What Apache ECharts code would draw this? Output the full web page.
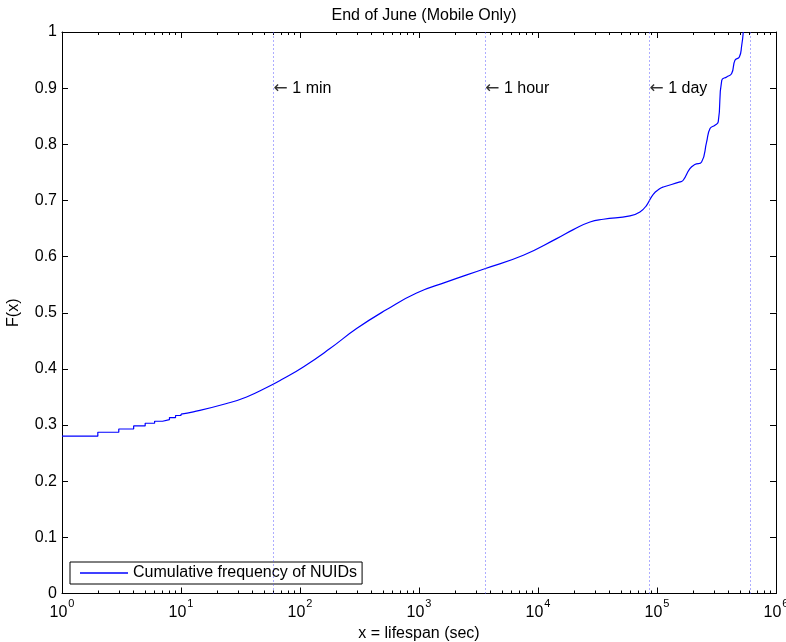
<!DOCTYPE html>
<html>
<head>
<meta charset="utf-8">
<script src="https://cdn.jsdelivr.net/npm/echarts@6/dist/echarts.min.js"></script>
<style>
  html, body { margin: 0; padding: 0; background: #fff; }
  #chart { width: 786px; height: 642px; }
</style>
</head>
<body>
<div id="chart"></div>
<script>
// Lifespan CDF of NUIDs (mobile only), x on a log scale in seconds.
// Short lifespans: whole-second steps.
const stepSeconds = [1, 2, 3, 4, 5, 6, 7, 8, 9, 10];
const stepCdf = [0.2801, 0.2872, 0.293, 0.2985, 0.3032, 0.3068, 0.3098, 0.3134, 0.317, 0.3195];

// Longer lifespans: continuous part of the curve.
const curveSeconds = [10, 12.7, 24.2, 35.6, 52.5, 70.2, 106.6, 178.6, 299, 535, 955, 1710, 3470,
  7530, 14350, 19800, 27350, 35400, 59300, 71900, 81800, 93000, 106000, 113000, 156000, 166000,
  189000, 208000, 237000, 261000, 279000, 307000, 327000, 350000, 385000, 424000, 452000, 492000,
  515000, 531000];
const curveCdf = [0.3195, 0.3234, 0.3383, 0.350, 0.3668, 0.381, 0.4035, 0.4362, 0.4718, 0.5057,
  0.5353, 0.5549, 0.5775, 0.6024, 0.632, 0.648, 0.6617, 0.6665, 0.6724, 0.6795, 0.6914, 0.711,
  0.7211, 0.724, 0.733, 0.736, 0.7568, 0.7639, 0.7686, 0.804, 0.828, 0.834, 0.8398, 0.914, 0.920,
  0.926, 0.9496, 0.9555, 0.976, 1.0];

// Reference durations: 1 min, 1 hour, 1 day, 1 week.
const markerSeconds = [60, 3600, 86400, 604800];
const markerNames = ['1 min', '1 hour', '1 day', ''];
const markerLabelY = 0.9;

// Axis ticks.
const decadeTicks = [1, 10, 100, 1000, 10000, 100000, 1000000];
const minorTicks = [];
decadeTicks.slice(0, -1).forEach(d => { for (let k = 2; k <= 9; k++) minorTicks.push(d * k); });

const seriesName = 'Cumulative frequency of NUIDs';
const FONT = '"Liberation Sans", Arial, Helvetica, sans-serif';

const chart = echarts.init(document.getElementById('chart'), null, { renderer: 'canvas' });

function xAxisDef(position, ticks, len, withLabels, withLine) {
  return {
    type: 'log', logBase: 10, min: 1, max: 1000000, position: position,
    axisLine: { show: withLine, onZero: false, lineStyle: { color: '#000', width: 1 } },
    axisTick: { show: true, inside: true, length: len, customValues: ticks,
      lineStyle: { color: '#000', width: 1 } },
    axisLabel: withLabels ? {
      show: true, customValues: decadeTicks, margin: 5, color: '#000', fontFamily: FONT,
      formatter: v => '{b|10}{e|' + Math.round(Math.log10(v)) + '}',
      rich: {
        b: { fontSize: 16, fontFamily: FONT, color: '#000', verticalAlign: 'bottom', lineHeight: 22 },
        e: { fontSize: 11, fontFamily: FONT, color: '#000', verticalAlign: 'top', lineHeight: 22, padding: [0, 0, 0, 1] }
      }
    } : { show: false },
    splitLine: { show: false },
    minorTick: { show: false }
  };
}

const markerData = markerSeconds.map((s, i) => [s, markerLabelY, markerNames[i]])
  .filter(d => d[2] !== '');

chart.setOption({
  animation: false,
  backgroundColor: '#fff',
  textStyle: { fontFamily: FONT },
  title: {
    text: 'End of June (Mobile Only)',
    left: 419, top: 3, textAlign: 'center',
    textStyle: { fontFamily: FONT, fontSize: 16, fontWeight: 'normal', color: '#000' }
  },
  grid: { left: 62, right: 10, top: 32, bottom: 48.5, containLabel: false, outerBoundsMode: 'none' },
  xAxis: [
    Object.assign(xAxisDef('bottom', decadeTicks, 6, true, true), {
      name: 'x = lifespan (sec)', nameLocation: 'middle', nameGap: 32,
      nameTextStyle: { fontFamily: FONT, fontSize: 16, color: '#000' }
    }),
    xAxisDef('bottom', minorTicks, 3, false, false),
    xAxisDef('top', decadeTicks, 6, false, true),
    xAxisDef('top', minorTicks, 3, false, false)
  ],
  yAxis: [
    {
      type: 'value', min: 0, max: 1, interval: 0.1, position: 'left',
      name: 'F(x)', nameLocation: 'middle', nameGap: 40, nameRotate: 90,
      nameTextStyle: { fontFamily: FONT, fontSize: 16, color: '#000' },
      axisLine: { show: true, onZero: false, lineStyle: { color: '#000', width: 1 } },
      axisTick: { show: true, inside: true, length: 6, lineStyle: { color: '#000' } },
      axisLabel: { margin: 5, color: '#000', fontSize: 16, fontFamily: FONT,
        formatter: v => String(Math.round(v * 10) / 10) },
      splitLine: { show: false }
    },
    {
      type: 'value', min: 0, max: 1, interval: 0.1, position: 'right',
      axisLine: { show: true, onZero: false, lineStyle: { color: '#000', width: 1 } },
      axisTick: { show: true, inside: true, length: 6, lineStyle: { color: '#000' } },
      axisLabel: { show: false },
      splitLine: { show: false }
    }
  ],
  legend: {
    data: [{ name: seriesName, icon: 'rect' }],
    left: 70, top: 562,
    orient: 'horizontal',
    backgroundColor: '#fff',
    borderColor: '#000', borderWidth: 1, borderRadius: 0,
    padding: [3, 5, 3, 10],
    itemWidth: 48, itemHeight: 1.3, itemGap: 0,
    textStyle: { fontFamily: FONT, fontSize: 16, color: '#000', lineHeight: 16 },
    selectedMode: false
  },
  series: [
    {
      name: seriesName, type: 'line', xAxisIndex: 0, yAxisIndex: 0,
      data: stepSeconds.map((s, i) => [s, stepCdf[i]]),
      step: 'end', symbol: 'none', showSymbol: false,
      lineStyle: { color: '#0000ff', width: 1.2 }, itemStyle: { color: '#0000ff' },
      clip: true, z: 3
    },
    {
      name: seriesName, type: 'line', xAxisIndex: 0, yAxisIndex: 0,
      data: curveSeconds.map((s, i) => [s, curveCdf[i]]),
      smooth: 0.5, symbol: 'none', showSymbol: false,
      lineStyle: { color: '#0000ff', width: 1.2 }, itemStyle: { color: '#0000ff' },
      clip: true, z: 3,
      markLine: {
        silent: true, symbol: 'none', animation: false,
        label: { show: false },
        lineStyle: { color: '#5a5aff', type: [1, 3], width: 1, opacity: 1 },
        emphasis: { disabled: true },
        data: markerSeconds.map(s => ({ xAxis: s }))
      }
    },
    {
      name: 'markers', type: 'scatter', xAxisIndex: 0, yAxisIndex: 0,
      data: markerData, symbolSize: 0, silent: true,
      emphasis: { disabled: true },
      label: {
        show: true, position: 'right', distance: 0,
        formatter: p => '{a|\u2190} ' + p.data[2],
        fontFamily: FONT, fontSize: 16, color: '#000000', opacity: 1,
        rich: { a: { fontFamily: '"DejaVu Sans", sans-serif', fontSize: 17, color: '#333' } }
      }
    }
  ]
});
</script>
</body>
</html>
